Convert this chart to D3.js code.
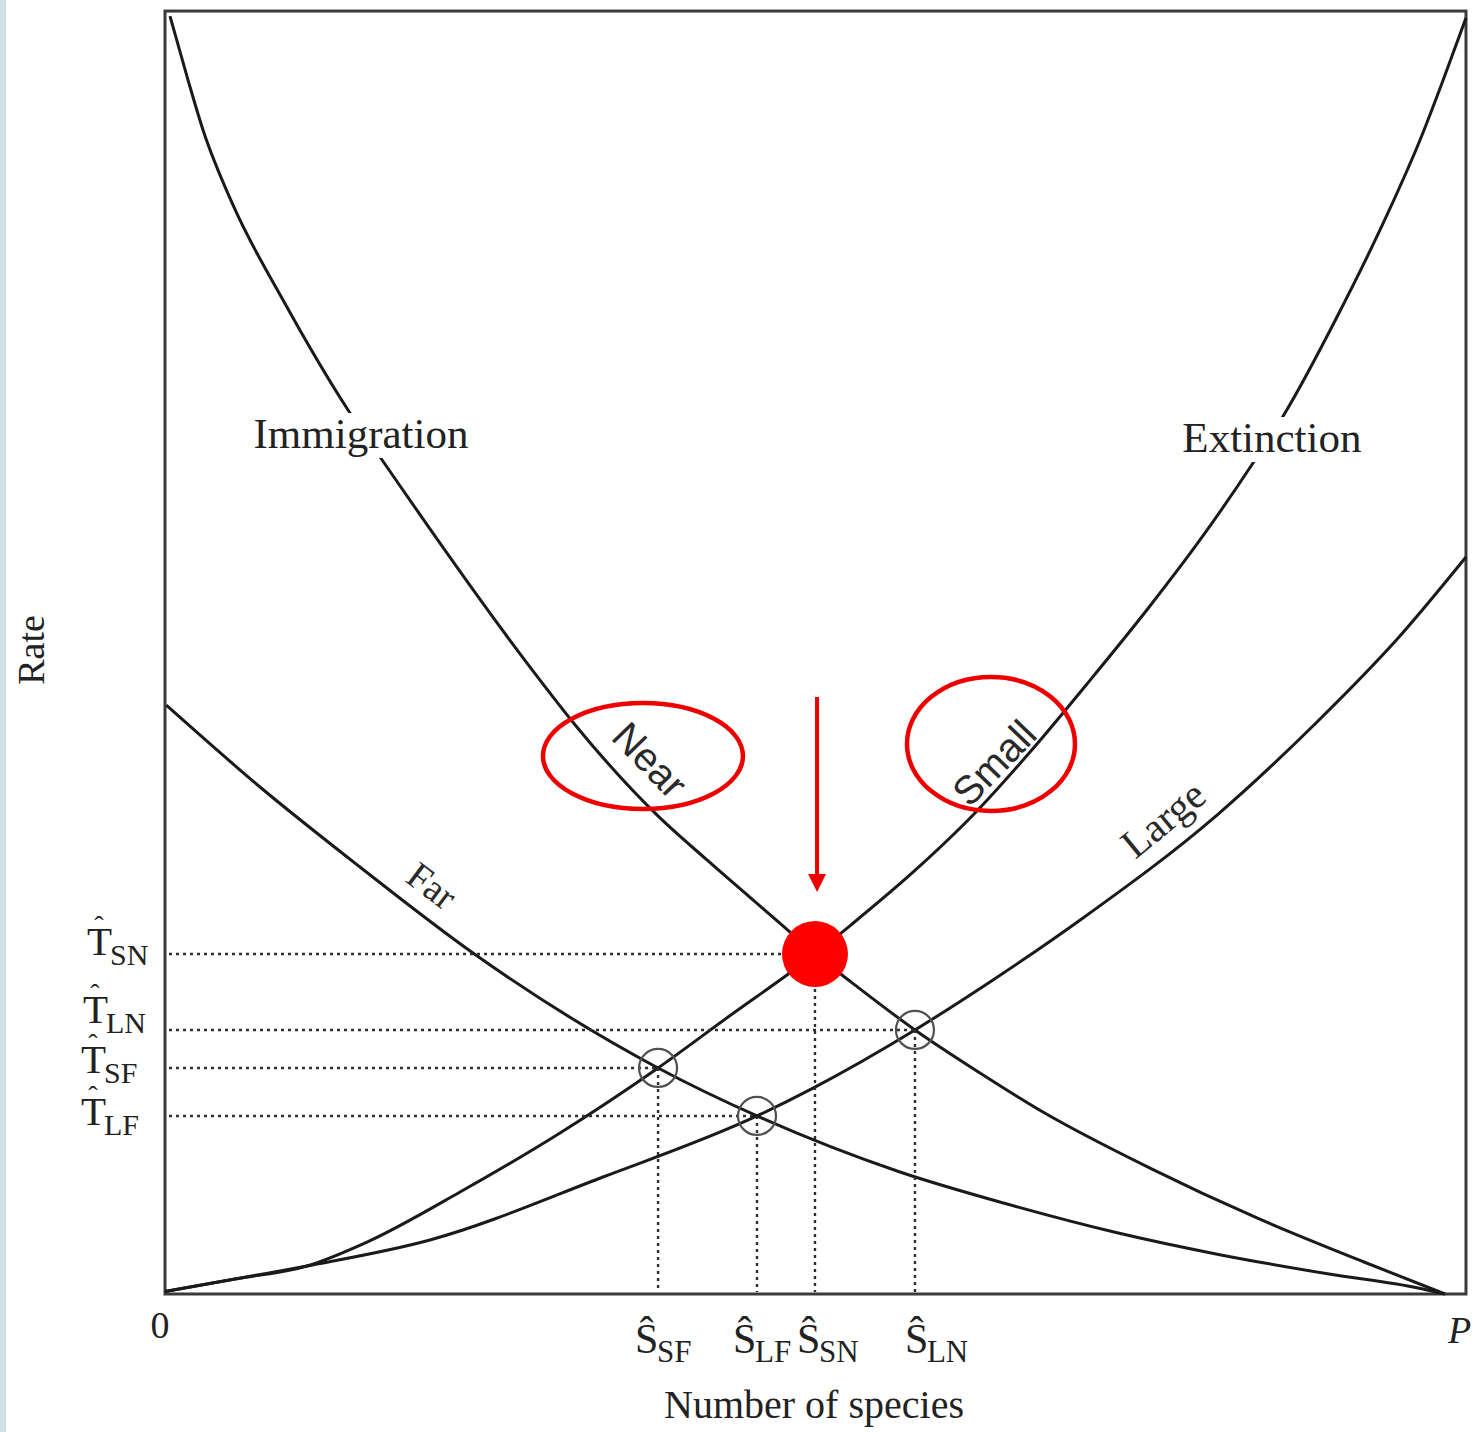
<!DOCTYPE html>
<html>
<head>
<meta charset="utf-8">
<script src="https://cdn.jsdelivr.net/npm/d3@7"></script>
<style>
  html, body { margin: 0; padding: 0; background: #ffffff; }
  svg { display: block; }
</style>
</head>
<body>
<script>
// ---------------- DATA (x = number of species, 0..P=100; y = rate, 0..100) ----------------
const immigrationNear = [
  [0.39, 99.84], [1.8, 94.84], [2.97, 90.94], [5.31, 85.08], [9.22, 77.66], [14.3, 69.06],
  [17.34, 64.61], [28.52, 48.98], [32.11, 44.38], [38.59, 37.27], [42.34, 33.91],
  [48.83, 28.28], [50.78, 26.56], [52.89, 24.92], [58.59, 20.63], [63.67, 17.27],
  [68.59, 14.22], [76.95, 9.84], [85.31, 5.94], [93.67, 2.5], [100, 0]
];
const immigrationFar = [
  [0.1, 46.0], [7.42, 39.61], [15.23, 33.36], [24.06, 26.64], [38.52, 17.66],
  [46.25, 13.91], [57.42, 9.53], [65.78, 7.03], [74.14, 4.84], [82.5, 3.05],
  [90.94, 1.56], [97.89, 0.47], [100, 0]
];
const extinctionSmall = [
  [0, 0.2], [5.47, 1.17], [11.09, 2.19], [15.78, 4.06], [23.05, 7.97], [30.86, 12.58],
  [38.52, 17.66], [44.53, 22.03], [48.59, 24.92], [50.78, 26.56], [53.59, 28.83],
  [58.98, 33.44], [63.13, 37.42], [67.58, 42.34], [72.03, 47.66], [76.95, 53.75],
  [80.86, 58.91], [85.0, 64.92], [87.5, 68.83], [91.56, 76.33], [95.47, 84.3],
  [98.05, 90.16], [100, 95.23], [101.64, 99.69]
];
const extinctionLarge = [
  [0, 0.2], [5.47, 1.17], [11.09, 2.19], [20.7, 4.22], [34.22, 9.14], [46.25, 13.91],
  [50.63, 16.09], [58.59, 20.63], [64.45, 24.38], [71.72, 29.38], [82.19, 37.42],
  [90.0, 44.69], [96.48, 51.41], [101.64, 57.58]
];
// equilibria (species, rate)
const eqNames   = ["SN", "LN", "SF", "LF"];
const eqSpecies = [50.78, 58.59, 38.52, 46.25];
const eqRates   = [26.56, 20.63, 17.66, 13.91];
const highlighted = "SN";
const axisEndLabels = ["0", "P"];
const curveNames = ["Immigration", "Extinction", "Near", "Far", "Small", "Large"];
const axisTitles = ["Number of species", "Rate"];

// ---------------- LAYOUT ----------------
const W = 1472, H = 1432;
const x = d3.scaleLinear().domain([0, 100]).range([165, 1445]);
const y = d3.scaleLinear().domain([0, 100]).range([1294, 14]);
const frameMaxX = 101.64, frameMaxY = 100.23;
const serif = "'Liberation Serif', 'Times New Roman', serif";
const sans = "'Liberation Sans', Arial, sans-serif";
const ink = "#1a1a1a";

const svg = d3.select("body").append("svg").attr("width", W).attr("height", H);
svg.append("rect").attr("width", W).attr("height", H).attr("fill", "#ffffff");
svg.append("rect").attr("x", 0).attr("y", 0).attr("width", 6).attr("height", H).attr("fill", "#cfe0e4");

// frame
svg.append("rect")
  .attr("x", x(0)).attr("y", y(frameMaxY))
  .attr("width", x(frameMaxX) - x(0)).attr("height", y(0) - y(frameMaxY))
  .attr("fill", "none").attr("stroke", "#3a3a3a").attr("stroke-width", 3);

// curves
const line = d3.line().x(d => x(d[0])).y(d => y(d[1])).curve(d3.curveMonotoneX);
[immigrationNear, immigrationFar, extinctionSmall, extinctionLarge].forEach(c => {
  svg.append("path").attr("d", line(c)).attr("fill", "none")
    .attr("stroke", ink).attr("stroke-width", 3).attr("stroke-linejoin", "round");
});

// big labels with white knock-out
function knockLabel(text, cx, baseline) {
  const t = svg.append("text").attr("x", x(cx)).attr("y", y(baseline))
    .attr("text-anchor", "middle").attr("font-family", serif).attr("font-size", 43)
    .attr("fill", "#222").text(text);
  const b = t.node().getBBox();
  svg.insert("rect", () => t.node())
    .attr("x", b.x - 4).attr("y", b.y + 3).attr("width", b.width + 8).attr("height", b.height - 2)
    .attr("fill", "#ffffff");
}
knockLabel(curveNames[0], 15.31, 66.09);
knockLabel(curveNames[1], 86.48, 65.78);

// rotated curve labels
function rotLabel(text, cx, cy, angle, size, fam) {
  svg.append("text")
    .attr("transform", `translate(${x(cx)},${y(cy)}) rotate(${angle})`)
    .attr("text-anchor", "middle").attr("dominant-baseline", "central")
    .attr("font-family", fam).attr("font-size", size).attr("fill", "#2a2a2a").text(text);
}
rotLabel(curveNames[2], 37.89, 41.72, 46, 40, sans);
rotLabel(curveNames[3], 20.86, 31.9, 37, 38, serif);
rotLabel(curveNames[4], 64.77, 41.5, -46, 40, sans);
rotLabel(curveNames[5], 77.97, 37.1, -39.5, 41, serif);

// dotted guide lines
const dots = svg.append("g").attr("stroke", "#2e2e2e").attr("stroke-width", 2.4)
  .attr("stroke-dasharray", "3,4").attr("fill", "none");
eqNames.forEach((n, i) => {
  dots.append("line").attr("x1", x(0) + 4).attr("x2", x(eqSpecies[i]))
    .attr("y1", y(eqRates[i])).attr("y2", y(eqRates[i]));
  dots.append("line").attr("x1", x(eqSpecies[i])).attr("x2", x(eqSpecies[i]))
    .attr("y1", y(eqRates[i])).attr("y2", y(0) - 2);
});

// open circles at equilibria
eqNames.forEach((n, i) => {
  if (n === highlighted) return;
  svg.append("circle").attr("cx", x(eqSpecies[i])).attr("cy", y(eqRates[i])).attr("r", 19)
    .attr("fill", "none").attr("stroke", "#505050").attr("stroke-width", 2.2);
});

// y tick labels  T-hat with subscripts
const tOffsets = [1, -7, 5, 9];
const tLeft = [87, 83, 81, 81];
eqNames.forEach((n, i) => {
  const base = y(eqRates[i]) + tOffsets[i];
  const g = svg.append("g").attr("font-family", serif).attr("fill", "#222");
  g.append("text").attr("x", tLeft[i]).attr("y", base).attr("font-size", 41).text("T");
  g.append("text").attr("x", tLeft[i] + 12).attr("y", base - 20).attr("text-anchor", "middle")
    .attr("font-size", 28).text("\u02C6");
  g.append("text").attr("x", tLeft[i] + 23).attr("y", base + 10).attr("font-size", 30).text(n);
});

// x tick labels  S-hat with subscripts
const sShift = [18, 10, 23, 24];
eqNames.forEach((n, i) => {
  const left = x(eqSpecies[i]) - sShift[i];
  const g = svg.append("g").attr("font-family", serif).attr("fill", "#222");
  g.append("text").attr("x", left).attr("y", 1353).attr("font-size", 42).text("\u015C");
  g.append("text").attr("x", left + 22).attr("y", 1362).attr("font-size", 31).text(n);
});

// axis end labels
svg.append("text").attr("x", x(0) - 5).attr("y", 1338).attr("text-anchor", "middle")
  .attr("font-family", serif).attr("font-size", 38).attr("fill", "#222").text(axisEndLabels[0]);
svg.append("text").attr("x", x(100) + 3).attr("y", 1343)
  .attr("font-family", serif).attr("font-style", "italic").attr("font-size", 38)
  .attr("fill", "#222").text(axisEndLabels[1]);

// axis titles
svg.append("text").attr("x", 814).attr("y", 1418).attr("text-anchor", "middle")
  .attr("font-family", serif).attr("font-size", 40).attr("fill", "#222").text(axisTitles[0]);
svg.append("text").attr("transform", "translate(44,650) rotate(-90)").attr("text-anchor", "middle")
  .attr("font-family", serif).attr("font-size", 38).attr("fill", "#222").text(axisTitles[1]);

// red annotations
const red = "#ee0000";
svg.append("ellipse").attr("cx", x(37.34)).attr("cy", y(42.03)).attr("rx", 100).attr("ry", 53)
  .attr("fill", "none").attr("stroke", red).attr("stroke-width", 4.5);
svg.append("ellipse").attr("cx", x(64.53)).attr("cy", y(42.97)).attr("rx", 84).attr("ry", 67)
  .attr("fill", "none").attr("stroke", red).attr("stroke-width", 4.5);
const ax = x(50.94);
svg.append("line").attr("x1", ax).attr("x2", ax).attr("y1", y(46.64)).attr("y2", y(31.41) - 14)
  .attr("stroke", red).attr("stroke-width", 4);
svg.append("path")
  .attr("d", `M${ax - 9},${y(31.41) - 18} L${ax + 9},${y(31.41) - 18} L${ax},${y(31.41)} Z`)
  .attr("fill", red);
const hi = eqNames.indexOf(highlighted);
svg.append("circle").attr("cx", x(eqSpecies[hi])).attr("cy", y(eqRates[hi])).attr("r", 33)
  .attr("fill", "#ff0000");
</script>
</body>
</html>
